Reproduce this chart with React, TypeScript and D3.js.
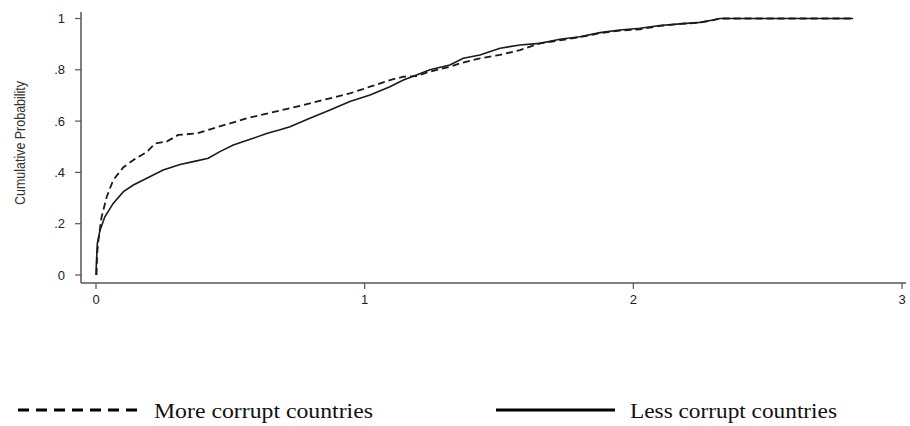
import React from "react";
import * as d3 from "d3";

const xTicks = [0, 1, 2, 3];
const yTicks = [0, 0.2, 0.4, 0.6, 0.8, 1];
const yTickLabels = ["0", ".2", ".4", ".6", ".8", "1"];

// More corrupt countries (dashed)
const moreX = [0.002, 0.004, 0.009, 0.021, 0.040, 0.064, 0.102, 0.139, 0.189, 0.22, 0.263, 0.306, 0.375, 0.437, 0.499, 0.561, 0.648, 0.722, 0.796, 0.871, 0.945, 1.020, 1.094, 1.144, 1.193, 1.243, 1.317, 1.355, 1.429, 1.504, 1.578, 1.652, 1.727, 1.801, 1.876, 1.950, 2.025, 2.099, 2.173, 2.248, 2.297, 2.322, 2.818];
const moreY = [0, 0.08, 0.136, 0.227, 0.305, 0.37, 0.42, 0.448, 0.48, 0.513, 0.52, 0.546, 0.552, 0.572, 0.591, 0.611, 0.632, 0.650, 0.669, 0.689, 0.708, 0.734, 0.760, 0.773, 0.775, 0.793, 0.812, 0.825, 0.845, 0.858, 0.877, 0.903, 0.915, 0.927, 0.943, 0.953, 0.958, 0.971, 0.979, 0.984, 0.994, 1.0, 1.0];

// Less corrupt countries (solid)
const lessX = [0, 0.002, 0.005, 0.015, 0.033, 0.064, 0.102, 0.139, 0.189, 0.250, 0.313, 0.362, 0.418, 0.461, 0.511, 0.585, 0.635, 0.685, 0.722, 0.796, 0.871, 0.945, 1.020, 1.094, 1.144, 1.193, 1.243, 1.317, 1.367, 1.429, 1.504, 1.578, 1.652, 1.727, 1.801, 1.876, 1.950, 2.025, 2.099, 2.173, 2.248, 2.297, 2.322, 2.818];
const lessY = [0, 0.06, 0.123, 0.175, 0.227, 0.279, 0.325, 0.351, 0.377, 0.409, 0.431, 0.442, 0.455, 0.481, 0.507, 0.533, 0.552, 0.566, 0.578, 0.611, 0.643, 0.676, 0.702, 0.734, 0.760, 0.780, 0.800, 0.819, 0.845, 0.858, 0.884, 0.897, 0.903, 0.919, 0.929, 0.945, 0.955, 0.962, 0.973, 0.979, 0.985, 0.994, 1.0, 1.0];

const legendLabels = ["More corrupt countries", "Less corrupt countries"];

export default function App() {
  const x = d3.scaleLinear().domain([0, 3]).range([96, 902]);
  const y = d3.scaleLinear().domain([0, 1]).range([275, 18.5]);
  const line = d3
    .line<[number, number]>()
    .x((d) => x(d[0]))
    .y((d) => y(d[1]));
  const more: [number, number][] = moreX.map((v, i) => [v, moreY[i]]);
  const less: [number, number][] = lessX.map((v, i) => [v, lessY[i]]);
  const axisColor = "#555";
  const tickFont = "'Liberation Sans', Arial, sans-serif";

  return (
    <svg
      width={910}
      height={426}
      style={{ position: "absolute", left: 0, top: 0, background: "#fff" }}
    >
      <rect width={910} height={426} fill="#fff" />
      {/* axes */}
      <line x1={81} x2={81} y1={12} y2={283} stroke={axisColor} strokeWidth={1.5} />
      <line x1={81} x2={906} y1={283} y2={283} stroke={axisColor} strokeWidth={1.5} />
      {yTicks.map((t, i) => (
        <g key={"y" + i}>
          <line x1={75} x2={81} y1={y(t)} y2={y(t)} stroke={axisColor} strokeWidth={1.2} />
          <text
            x={65}
            y={y(t)}
            dy="0.35em"
            textAnchor="end"
            fontFamily={tickFont}
            fontSize={13}
            fill="#222"
          >
            {yTickLabels[i]}
          </text>
        </g>
      ))}
      {xTicks.map((t, i) => (
        <g key={"x" + i}>
          <line x1={x(t)} x2={x(t)} y1={283} y2={289} stroke={axisColor} strokeWidth={1.2} />
          <text
            x={x(t)}
            y={304}
            textAnchor="middle"
            fontFamily={tickFont}
            fontSize={13}
            fill="#222"
          >
            {t}
          </text>
        </g>
      ))}
      <text
        transform="translate(25,143) rotate(-90)"
        textAnchor="middle"
        fontFamily="'Liberation Sans Narrow', 'Arial Narrow', 'Liberation Sans', sans-serif"
        fontSize={15}
        textLength={124}
        lengthAdjust="spacingAndGlyphs"
        fill="#333"
      >
        Cumulative Probability
      </text>
      {/* curves */}
      <path d={line(less) || ""} fill="none" stroke="#1a1a1a" strokeWidth={1.6} />
      <path
        d={line(more) || ""}
        fill="none"
        stroke="#1a1a1a"
        strokeWidth={1.8}
        strokeDasharray="7,4"
      />
      {/* legend */}
      <line x1={18} x2={137} y1={410} y2={410} stroke="#000" strokeWidth={3} strokeDasharray="11,7" />
      <text
        x={154}
        y={418}
        fontFamily="'Liberation Serif', 'Times New Roman', serif"
        fontSize={21}
        textLength={219}
        lengthAdjust="spacingAndGlyphs"
        fill="#111"
      >
        {legendLabels[0]}
      </text>
      <line x1={496} x2={615} y1={410} y2={410} stroke="#000" strokeWidth={3} />
      <text
        x={630}
        y={418}
        fontFamily="'Liberation Serif', 'Times New Roman', serif"
        fontSize={21}
        textLength={207}
        lengthAdjust="spacingAndGlyphs"
        fill="#111"
      >
        {legendLabels[1]}
      </text>
    </svg>
  );
}
